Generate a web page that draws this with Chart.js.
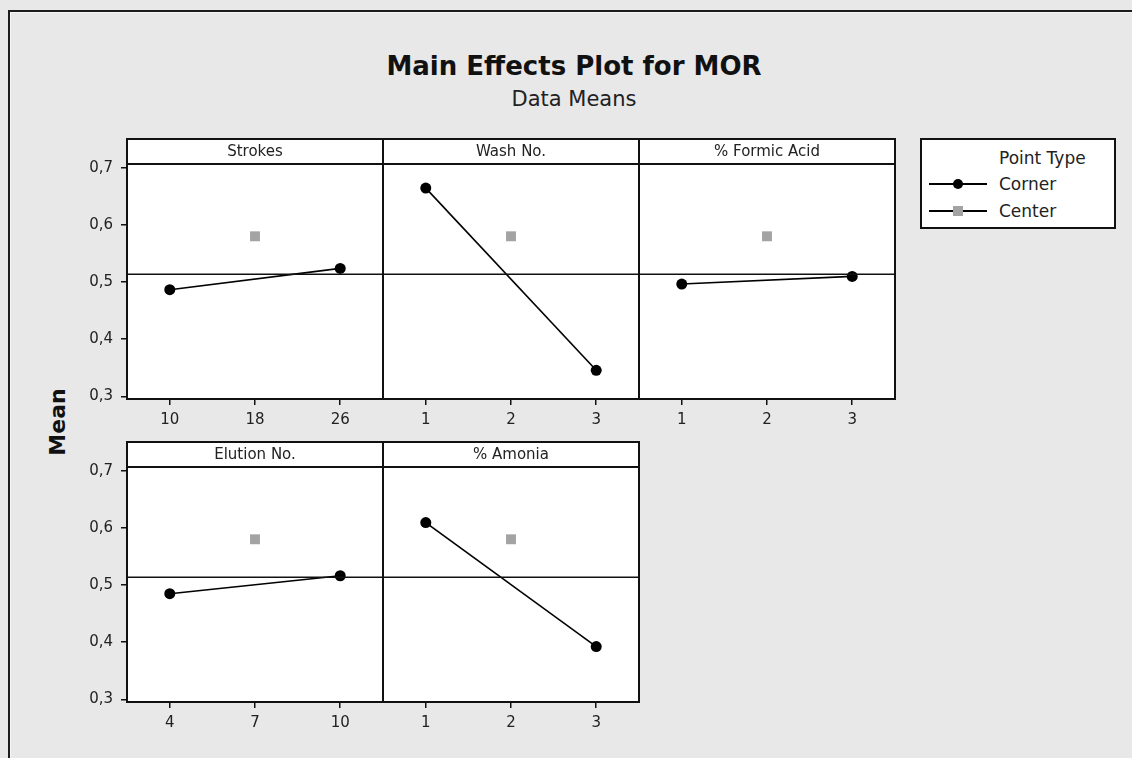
<!DOCTYPE html>
<html>
<head>
<meta charset="utf-8">
<script src="https://cdn.jsdelivr.net/npm/chart.js@4.4.0/dist/chart.umd.min.js"></script>
<style>
  html, body { margin: 0; padding: 0; }
  body {
    width: 1132px; height: 758px; overflow: hidden; position: relative;
    background: #e8e8e8; font-family: "DejaVu Sans", sans-serif; color: #111;
  }
  #frame {
    position: absolute; left: 8px; top: 10px; right: 0; bottom: 0;
    border-top: 2px solid #1c1c1c; border-left: 2px solid #1c1c1c;
    box-shadow: inset 1px 1px 0 #f6f6f6;
  }
  #title {
    position: absolute; left: 0; width: 1148px; top: 53px; text-align: center;
    font-size: 26px; line-height: 26px; font-weight: bold; color: #111;
  }
  #subtitle {
    position: absolute; left: 0; width: 1148px; top: 89px; text-align: center;
    font-size: 21px; line-height: 21px; color: #222;
  }
  #ylabel {
    position: absolute; left: 58px; top: 422px; white-space: nowrap;
    transform: translate(-50%, -50%) rotate(-90deg);
    font-size: 22px; line-height: 22px; font-weight: bold; color: #111;
  }
  #legend {
    position: absolute; left: 920px; top: 138px; width: 196px; height: 91px;
    box-sizing: border-box; border: 2px solid #111; background: #fff;
  }
  #legend .txt { position: absolute; left: 77px; font-size: 17px; line-height: 20px; color: #222; }
  #legend svg { position: absolute; left: 7px; }
  .panel { position: absolute; }
</style>
</head>
<body>
<div id="frame"></div>
<div id="title">Main Effects Plot for MOR</div>
<div id="subtitle">Data Means</div>
<div id="ylabel">Mean</div>
<div id="legend">
  <div class="txt" style="top:8px">Point Type</div>
  <svg style="top:36px" width="58" height="16">
    <line x1="0" y1="8" x2="58" y2="8" stroke="#000" stroke-width="2"/>
    <circle cx="29" cy="8" r="5" fill="#000"/>
  </svg>
  <div class="txt" style="top:34px">Corner</div>
  <svg style="top:63px" width="58" height="16">
    <line x1="0" y1="8" x2="58" y2="8" stroke="#000" stroke-width="2"/>
    <rect x="24" y="3" width="10" height="10" fill="#a3a3a3"/>
  </svg>
  <div class="txt" style="top:61px">Center</div>
</div>

<script>
// Factors and their levels
const factorNames = ['Strokes', 'Wash No.', '% Formic Acid', 'Elution No.', '% Amonia'];
const levelLow = [10, 1, 1, 4, 1];
const levelCenter = [18, 2, 2, 7, 2];
const levelHigh = [26, 3, 3, 10, 3];
const xTickLabels = [
  ['10', '18', '26'],
  ['1', '2', '3'],
  ['1', '2', '3'],
  ['4', '7', '10'],
  ['1', '2', '3']
];

// Means
const cornerLowMeans = [0.4865, 0.6643, 0.4965, 0.4848, 0.6093];
const cornerHighMeans = [0.5238, 0.3455, 0.5098, 0.5162, 0.3922];
const centerMeans = [0.580, 0.580, 0.580, 0.580, 0.580];
const overallMean = 0.5135;

const yTicks = [0.3, 0.4, 0.5, 0.6, 0.7];
const yMin = 0.2953, yMax = 0.7065;

// Layout (pixels)
const PLOT_LEFT = [127, 383, 639];
const ROW_TOP = [138, 441];
const HEADER_H = 26, PLOT_W = 256, PLOT_H = 235, X_AXIS_H = 40, Y_AXIS_W = 62;

const tickFont = { family: 'DejaVu Sans', size: 15 };

// Draws the white panel, its frame and the header strip with the factor name
const panelFrame = {
  id: 'panelFrame',
  beforeDraw(chart) {
    const { ctx, chartArea: a } = chart;
    ctx.save();
    ctx.fillStyle = '#ffffff';
    ctx.fillRect(a.left, a.top - HEADER_H, a.width, a.height + HEADER_H);
    ctx.restore();
  },
  afterDraw(chart, args, opts) {
    const { ctx, chartArea: a } = chart;
    ctx.save();
    ctx.strokeStyle = '#111';
    ctx.lineWidth = 2;
    ctx.strokeRect(a.left, a.top - HEADER_H + 1, a.width, a.height + HEADER_H - 1);
    ctx.beginPath();
    ctx.moveTo(a.left, a.top);
    ctx.lineTo(a.right, a.top);
    ctx.stroke();
    ctx.fillStyle = '#222';
    ctx.font = '15px "DejaVu Sans"';
    ctx.textAlign = 'center';
    ctx.textBaseline = 'middle';
    ctx.fillText(opts.text, (a.left + a.right) / 2, a.top - HEADER_H / 2 + 1);
    ctx.restore();
  }
};

function makePanel(i) {
  const row = i < 3 ? 0 : 1;
  const col = i < 3 ? i : i - 3;
  const showY = col === 0;
  const padL = showY ? 0 : 3;
  const axisW = showY ? Y_AXIS_W : 0;

  const wrap = document.createElement('div');
  wrap.className = 'panel';
  wrap.style.left = (PLOT_LEFT[col] - axisW - padL) + 'px';
  wrap.style.top = ROW_TOP[row] + 'px';
  wrap.style.width = (axisW + padL + PLOT_W + 3) + 'px';
  wrap.style.height = (HEADER_H + PLOT_H + X_AXIS_H) + 'px';
  const canvas = document.createElement('canvas');
  wrap.appendChild(canvas);
  document.body.appendChild(wrap);

  const span = levelHigh[i] - levelLow[i];
  const xMin = levelLow[i] - 0.251 * span;
  const xMax = levelHigh[i] + 0.251 * span;
  const xVals = [levelLow[i], levelCenter[i], levelHigh[i]];

  new Chart(canvas.getContext('2d'), {
    type: 'line',
    data: {
      datasets: [
        {
          label: 'Overall mean',
          data: [{ x: xMin, y: overallMean }, { x: xMax, y: overallMean }],
          borderColor: '#111',
          borderWidth: 1.5,
          pointRadius: 0
        },
        {
          label: 'Corner',
          data: [{ x: levelLow[i], y: cornerLowMeans[i] }, { x: levelHigh[i], y: cornerHighMeans[i] }],
          borderColor: '#000',
          borderWidth: 1.6,
          pointRadius: 5.5,
          pointBackgroundColor: '#000',
          pointBorderColor: '#000',
          pointBorderWidth: 0
        },
        {
          label: 'Center',
          data: [{ x: levelCenter[i], y: centerMeans[i] }],
          showLine: false,
          pointStyle: 'rect',
          pointRadius: 7,
          pointBackgroundColor: '#a3a3a3',
          pointBorderWidth: 0
        }
      ]
    },
    options: {
      responsive: true,
      maintainAspectRatio: false,
      animation: false,
      events: [],
      layout: {
        autoPadding: false,
        padding: { top: HEADER_H, left: padL, right: 3, bottom: 0 }
      },
      scales: {
        x: {
          type: 'linear',
          min: xMin,
          max: xMax,
          afterBuildTicks: scale => { scale.ticks = xVals.map(v => ({ value: v })); },
          afterFit: scale => {
            scale.height = X_AXIS_H;
            scale.paddingLeft = 0;
            scale.paddingRight = 0;
          },
          ticks: {
            color: '#222',
            font: tickFont,
            padding: 6,
            maxRotation: 0,
            autoSkip: false,
            callback: (value, index) => xTickLabels[i][index]
          },
          grid: { drawOnChartArea: false, tickLength: 6, color: '#111', lineWidth: 1.5 },
          border: { display: false }
        },
        y: {
          display: showY,
          min: yMin,
          max: yMax,
          afterBuildTicks: scale => { scale.ticks = yTicks.map(v => ({ value: v })); },
          afterFit: scale => {
            scale.width = axisW;
            scale.paddingTop = 0;
            scale.paddingBottom = 0;
          },
          ticks: {
            color: '#222',
            font: tickFont,
            padding: 8,
            callback: value => value.toFixed(1).replace('.', ',')
          },
          grid: { drawOnChartArea: false, tickLength: 6, color: '#111', lineWidth: 1.5 },
          border: { display: false }
        }
      },
      plugins: {
        legend: { display: false },
        tooltip: { enabled: false },
        panelFrame: { text: factorNames[i] }
      }
    },
    plugins: [panelFrame]
  });
}

factorNames.forEach((name, i) => makePanel(i));
</script>
</body>
</html>
